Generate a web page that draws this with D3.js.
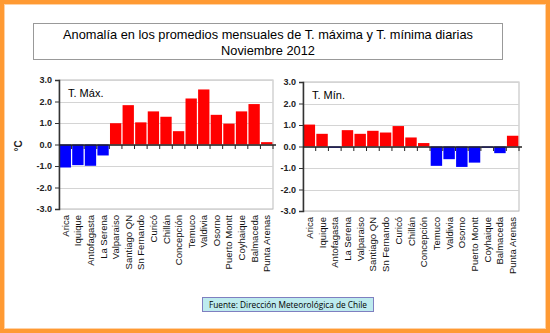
<!DOCTYPE html>
<html><head><meta charset="utf-8">
<script src="https://cdn.jsdelivr.net/npm/d3@7"></script>
<style>body{margin:0;background:#fff}svg{display:block}</style>
</head><body>
<svg id="c" width="550" height="333"></svg>
<script>
const stations = ["Arica","Iquique","Antofagasta","La Serena","Valparaiso","Santiago QN","Sn Fernando","Curicó","Chillán","Concepción","Temuco","Valdivia","Osorno","Puerto Montt","Coyhaique","Balmaceda","Punta Arenas"];
const tMax = [-1.07,-0.96,-0.99,-0.51,0.99,1.83,1.03,1.54,1.29,0.62,2.14,2.56,1.38,0.97,1.54,1.88,0.11];
const tMin = [1.02,0.59,-0.06,0.76,0.59,0.73,0.65,0.95,0.42,0.16,-0.9,-0.59,-0.95,-0.75,-0.06,-0.31,0.5];
const yTicks = [3,2,1,0,-1,-2,-3];
const yTickLabels = ["3.0","2.0","1.0","0.0","-1.0","-2.0","-3.0"];
const titleLines = ["Anomalía en los promedios mensuales de T. máxima y T. mínima diarias","Noviembre 2012"];
const source = "Fuente: Dirección Meteorológica de Chile";

const svg = d3.select("#c");
const font = "Arial, 'Liberation Sans', sans-serif";

// orange frame
svg.append("rect").attr("x",2).attr("y",2).attr("width",546).attr("height",329)
  .attr("fill","none").attr("stroke","#FF9A33").attr("stroke-width",4);
svg.append("rect").attr("x",4.5).attr("y",4.5).attr("width",541).attr("height",324)
  .attr("fill","none").attr("stroke","#FFD2A6").attr("stroke-width",1);

// title box
svg.append("rect").attr("x",33.5).attr("y",23.5).attr("width",469).attr("height",36)
  .attr("fill","#fff").attr("stroke","#999").attr("stroke-width",1);
svg.append("text").attr("x",268).attr("y",39).attr("text-anchor","middle")
  .attr("font-family",font).attr("font-size",12.8).attr("fill","#000").text(titleLines[0]);
svg.append("text").attr("x",268).attr("y",55).attr("text-anchor","middle")
  .attr("font-family",font).attr("font-size",12.8).attr("fill","#000").text(titleLines[1]);

function panel(x0,x1,y0,y1,data,label){
  const x = d3.scaleBand().domain(stations).range([x0,x1]).paddingInner(0.1).paddingOuter(0.05);
  const y = d3.scaleLinear().domain([-3,3]).range([y1,y0]);
  const g = svg.append("g");
  g.append("rect").attr("x",x0).attr("y",y0).attr("width",x1-x0).attr("height",y1-y0)
    .attr("fill","#fff").attr("stroke","#bbb").attr("stroke-width",1);
  g.selectAll("line.grid").data(yTicks).join("line")
    .attr("x1",x0).attr("x2",x1).attr("y1",d=>Math.round(y(d))+0.5).attr("y2",d=>Math.round(y(d))+0.5)
    .attr("stroke","#d4d4d4").attr("stroke-width",1);
  g.selectAll("rect.bar").data(stations).join("rect")
    .attr("x",d=>x(d))
    .attr("width",x.bandwidth())
    .attr("y",(d,i)=>y(Math.max(0,data[i])))
    .attr("height",(d,i)=>Math.abs(y(data[i])-y(0)))
    .attr("fill",(d,i)=>data[i]>=0?"#FF0000":"#0000FF");
  const ya = d3.axisLeft(y).tickValues(yTicks).tickFormat((d,i)=>yTickLabels[i]).tickSize(4);
  const yg = g.append("g").attr("transform",`translate(${x0},0)`).call(ya);
  yg.select(".domain").attr("stroke","#333").attr("stroke-width",1.5);
  yg.selectAll(".tick line").attr("stroke","#333");
  yg.selectAll(".tick text").attr("font-family",font).attr("font-size",9).attr("font-weight","bold").attr("fill","#222");
  const zy = Math.round(y(0));
  g.append("line").attr("x1",x0).attr("x2",x1+3).attr("y1",zy).attr("y2",zy)
    .attr("stroke","#222").attr("stroke-width",1.5);
  const step = x.step();
  const bounds = d3.range(1, stations.length+1).map(i=>x(stations[0]) - x.step()*x.paddingInner()/2 + i*step);
  g.selectAll("line.xt").data(bounds).join("line")
    .attr("x1",d=>d).attr("x2",d=>d).attr("y1",zy).attr("y2",zy+4)
    .attr("stroke","#222").attr("stroke-width",1);
  g.selectAll("text.cat").data(stations).join("text")
    .attr("transform",d=>`translate(${x(d)+x.bandwidth()/2+3.5},${y1+6}) rotate(-90)`)
    .attr("text-anchor","end")
    .attr("font-family",font).attr("font-size",9.5).attr("fill","#111").text(d=>d);
  g.append("text").attr("x",x0+9).attr("y",y0+17).attr("font-family",font).attr("font-size",11)
    .attr("fill","#000").text(label);
}
panel(59,273,80,209,tMax,"T. Máx.");
panel(303,519,82,211,tMin,"T. Mín.");

svg.append("text").attr("transform","translate(22,146) rotate(-90)").attr("text-anchor","middle")
  .attr("font-family",font).attr("font-size",10).attr("font-weight","bold").attr("fill","#222").text("°C");

// source box
svg.append("rect").attr("x",202.5).attr("y",297.5).attr("width",171).attr("height",14)
  .attr("fill","#BDEBEE").attr("stroke","#7F7FC0").attr("stroke-width",1);
svg.append("text").attr("x",288).attr("y",308).attr("text-anchor","middle")
  .attr("font-family","'Open Sans', sans-serif").attr("font-size",8.4).attr("fill","#000")
  .attr("textLength",158).attr("lengthAdjust","spacingAndGlyphs").text(source);
</script>
</body></html>
